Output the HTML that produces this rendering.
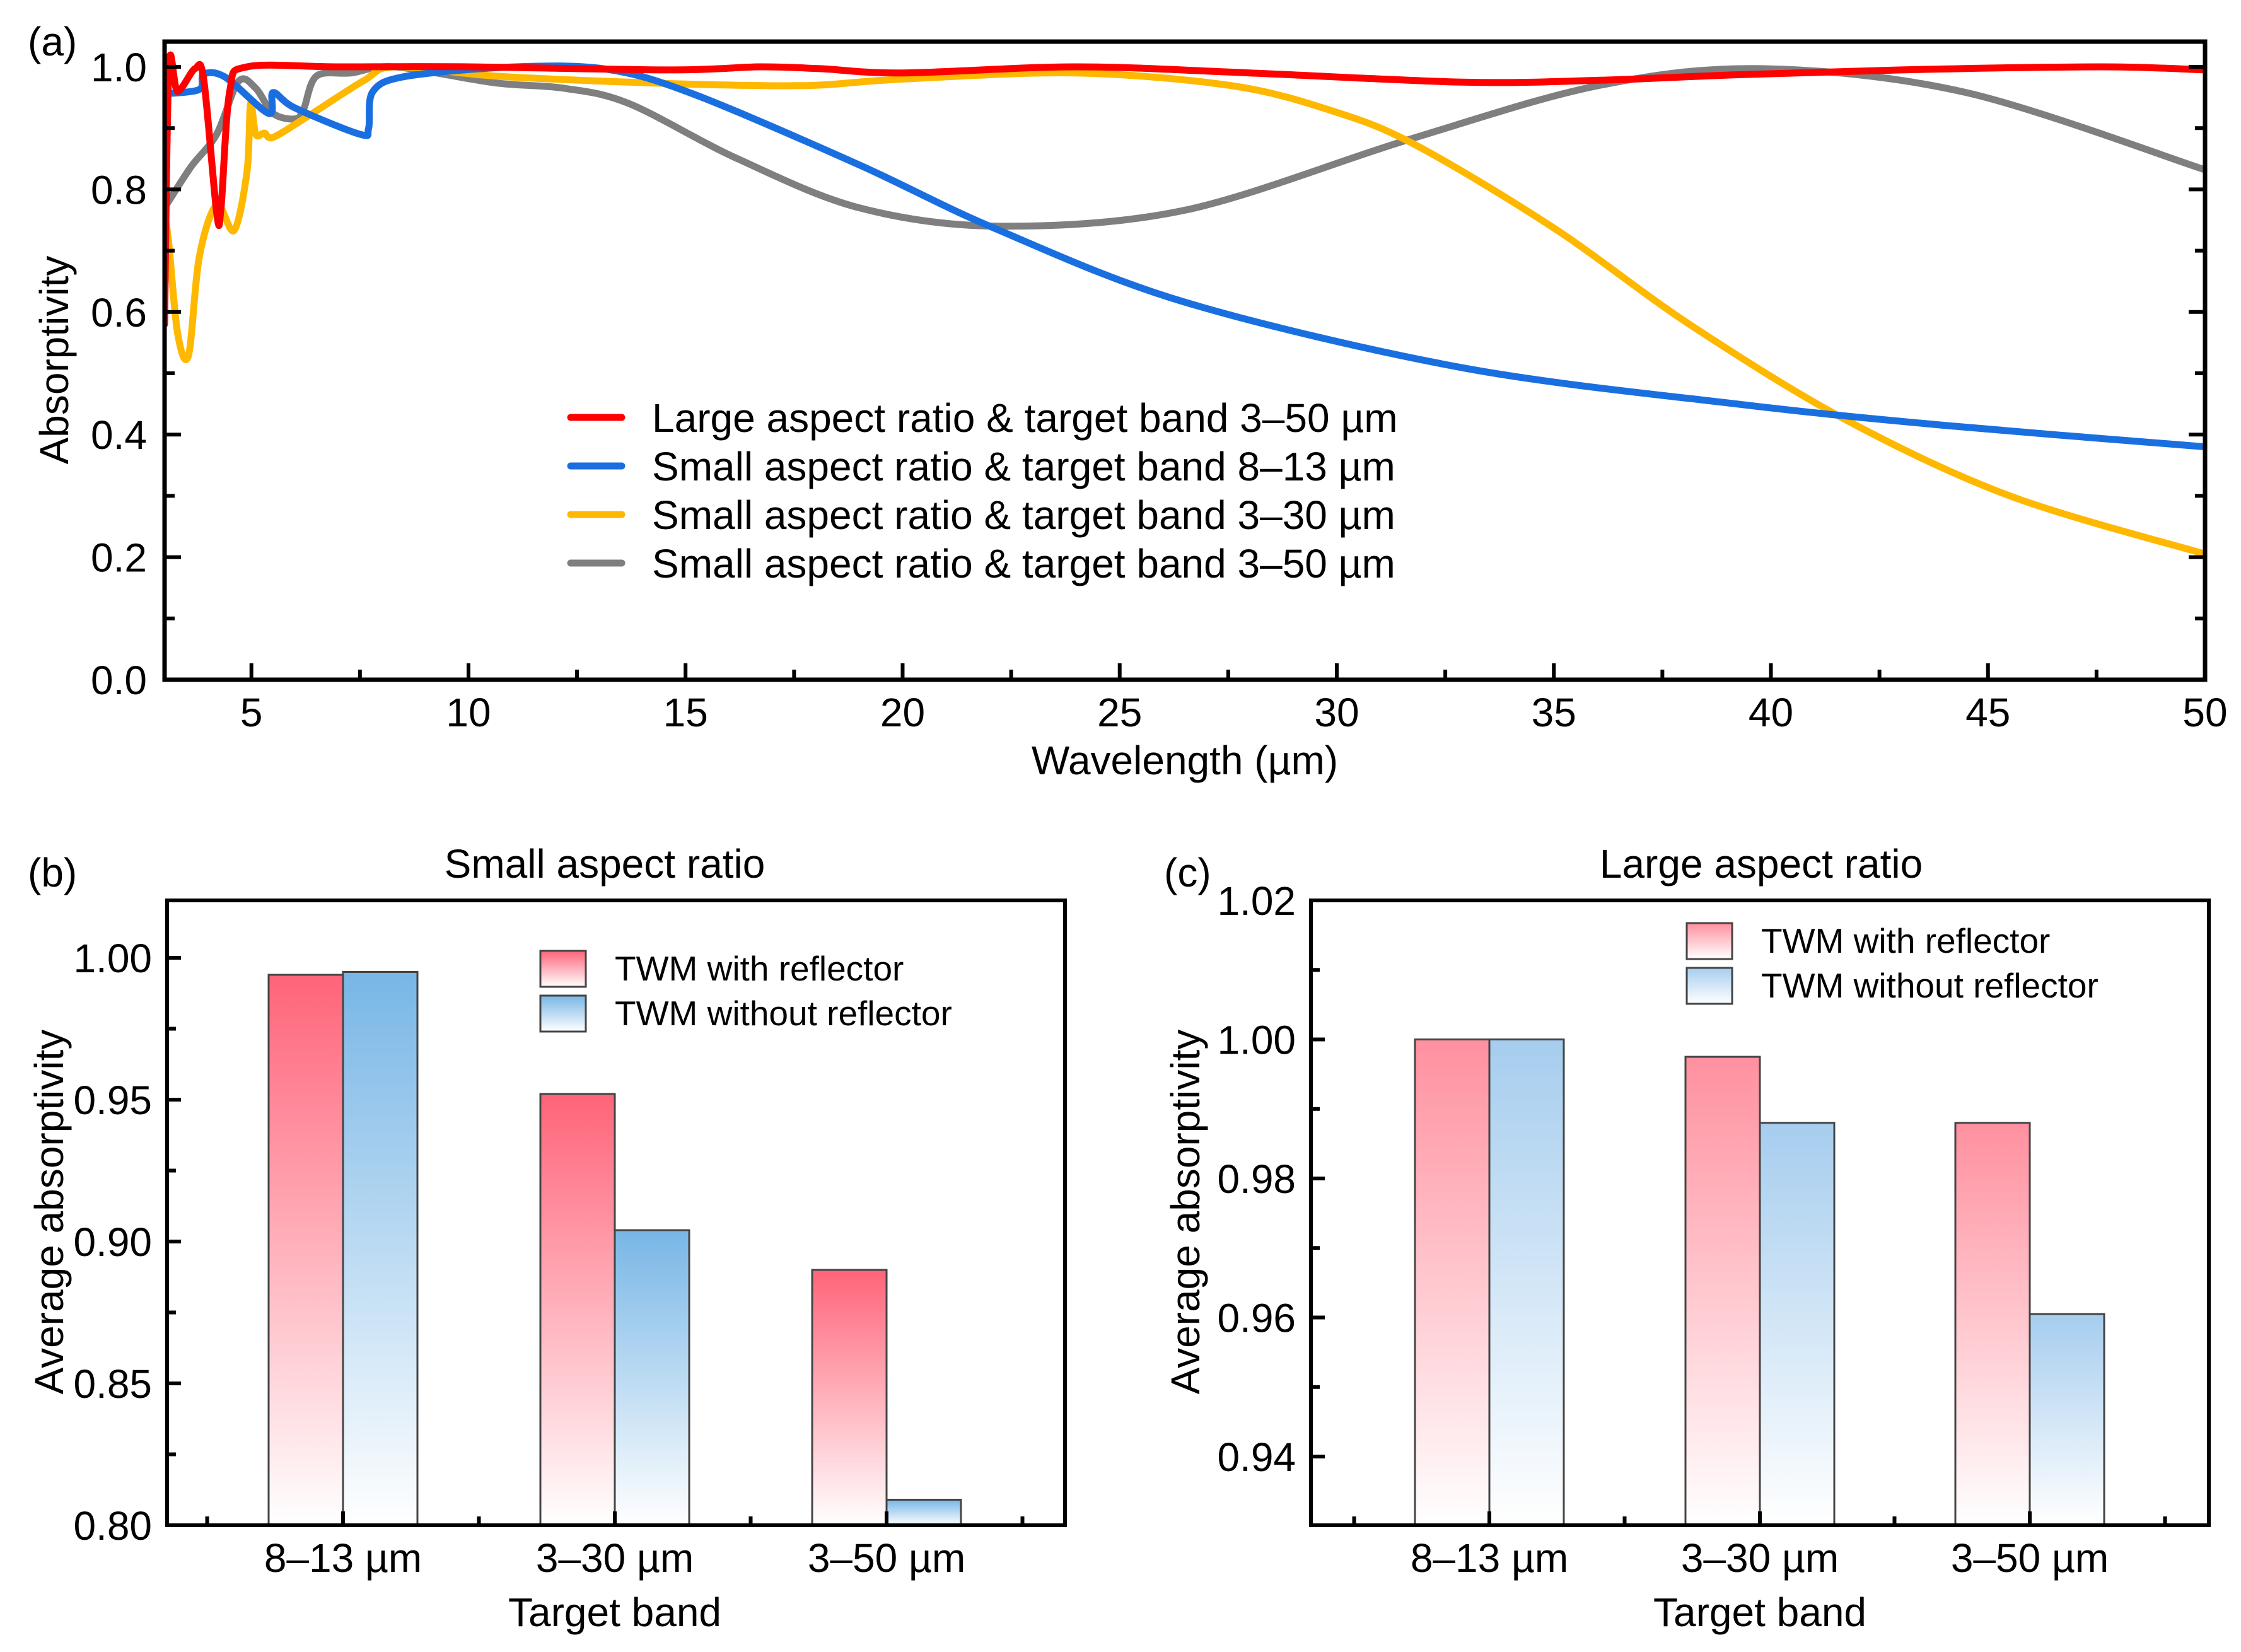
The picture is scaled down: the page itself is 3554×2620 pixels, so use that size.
<!DOCTYPE html>
<html><head><meta charset="utf-8">
<style>
html,body{margin:0;padding:0;background:#fff;}
svg{display:block;font-family:"Liberation Sans",Arial,sans-serif;}
</style></head>
<body>
<svg id="fig" width="3554" height="2620" viewBox="0 0 3554 2620" xmlns="http://www.w3.org/2000/svg">
<defs>
<linearGradient id="gRedB" x1="0" y1="0" x2="0" y2="1"><stop offset="0" stop-color="#ff6479"/><stop offset="1" stop-color="#ffffff"/></linearGradient>
<linearGradient id="gBlueB" x1="0" y1="0" x2="0" y2="1"><stop offset="0" stop-color="#78b6e6"/><stop offset="1" stop-color="#ffffff"/></linearGradient>
<linearGradient id="gRedC" x1="0" y1="0" x2="0" y2="1"><stop offset="0" stop-color="#ff909f"/><stop offset="1" stop-color="#ffffff"/></linearGradient>
<linearGradient id="gBlueC" x1="0" y1="0" x2="0" y2="1"><stop offset="0" stop-color="#a6cdee"/><stop offset="1" stop-color="#ffffff"/></linearGradient>
</defs>
<g id="pa"></g>
<g id="pb"></g>
<g id="pc"></g>
</svg>
<script>
// ---------- Panel (a) data ----------
const redX=[3,3.1,3.3,3.7,3.9,4.2,4.3,4.5,4.9,7,10,14.7,16.7,18.1,20,24,28,32.9,36,39.2,43,47.6,50];
const redY=[0.58,1.0,0.96,0.997,0.98,0.762,0.77,0.96,1.0,1.0,1.0,0.995,1.0,0.997,0.99,1.0,0.99,0.975,0.978,0.987,0.995,1.0,0.995];
const blueX=[3,3.8,3.9,4.4,5.4,5.5,6.0,7.5,7.7,7.8,8.6,11.1,13.2,15.2,19.0,22.1,26.5,32.9,39.2,44,50];
const blueY=[0.956,0.963,0.988,0.983,0.924,0.958,0.933,0.89,0.90,0.96,0.985,1.0,0.996,0.955,0.84,0.737,0.616,0.509,0.45,0.415,0.38];
const yelX=[3,3.1,3.3,3.55,3.8,4.2,4.6,4.9,4.98,5.1,5.3,5.5,6.25,7.6,8.3,10.6,13.7,16.2,18,20,24,27.6,29.9,31.8,35,38.1,41.7,45.5,50];
const yelY=[0.76,0.71,0.565,0.529,0.69,0.775,0.733,0.83,0.94,0.89,0.892,0.885,0.917,0.978,1.0,0.985,0.975,0.97,0.97,0.98,0.99,0.969,0.928,0.873,0.737,0.581,0.425,0.30,0.205];
const grayX=[3,3.6,4.2,4.7,5.1,5.5,6.0,6.2,6.5,7.3,8.3,10.6,12.2,13.7,16.2,19.0,22.2,26.5,31.6,36,39.8,44.5,50];
const grayY=[0.77,0.836,0.89,0.976,0.965,0.924,0.915,0.93,0.985,0.99,1.0,0.974,0.965,0.94,0.85,0.77,0.74,0.766,0.88,0.969,0.997,0.958,0.832];
const seriesNames=["Large aspect ratio & target band 3–50 µm","Small aspect ratio & target band 8–13 µm","Small aspect ratio & target band 3–30 µm","Small aspect ratio & target band 3–50 µm"];
const xTicksA=[5,10,15,20,25,30,35,40,45,50];
const yTicksA=[0,0.2,0.4,0.6,0.8,1.0];
// ---------- Panel (b)/(c) data ----------
const bandCats=["8–13 µm","3–30 µm","3–50 µm"];
const bWith=[0.994,0.952,0.890];
const bWithout=[0.995,0.904,0.809];
const cWith=[1.000,0.9975,0.988];
const cWithout=[1.000,0.988,0.9605];
const yTicksB=["0.80","0.85","0.90","0.95","1.00"];
const yTicksC=["0.94","0.96","0.98","1.00","1.02"];

const NS="http://www.w3.org/2000/svg";
function mk(parent,tag,attrs,text){const e=document.createElementNS(NS,tag);for(const k in attrs)e.setAttribute(k,attrs[k]);if(text!==undefined)e.textContent=text;parent.appendChild(e);return e;}
const FS=64;
function smoothPath(P){
 let d='M'+P[0][0].toFixed(1)+','+P[0][1].toFixed(1);
 for(let i=0;i<P.length-1;i++){
  const p0=P[Math.max(0,i-1)],p1=P[i],p2=P[i+1],p3=P[Math.min(P.length-1,i+2)];
  const t=0.16;
  const c1=[p1[0]+(p2[0]-p0[0])*t,p1[1]+(p2[1]-p0[1])*t];
  const c2=[p2[0]-(p3[0]-p1[0])*t,p2[1]-(p3[1]-p1[1])*t];
  d+=' C'+c1[0].toFixed(1)+','+c1[1].toFixed(1)+' '+c2[0].toFixed(1)+','+c2[1].toFixed(1)+' '+p2[0].toFixed(1)+','+p2[1].toFixed(1);
 }
 return d;
}

// ===== Panel A =====
(function(){
const g=document.getElementById('pa');
const L=261,R=3497,T=66,B=1078;
const xs=v=>L+(v-3)/(50-3)*(R-L);
const ys=v=>B-(v-0)/(1.0)*(B-106);
const cols=["#ff0000","#1a6fe0","#ffb800","#7f7f7f"];
const XS=[redX,blueX,yelX,grayX],YS=[redY,blueY,yelY,grayY];
const names=['red-curve','blue-curve','yellow-curve','gray-curve'];
const cp=mk(g,'clipPath',{id:'clipA'});mk(cp,'rect',{x:L,y:T,width:R-L,height:B-T});
[3,2,1,0].forEach(i=>{
  const P=XS[i].map((x,j)=>[xs(x),ys(YS[i][j])]);
  const p=mk(g,'path',{d:smoothPath(P),fill:'none',stroke:cols[i],'stroke-width':11,'stroke-linejoin':'round','stroke-linecap':'round','clip-path':'url(#clipA)'});
  
  
});
const fr=mk(g,'rect',{x:L,y:T,width:R-L,height:B-T,fill:'none',stroke:'#000','stroke-width':7});

for(let v=5;v<=50;v+=2.5){const maj=(v%5===0);mk(g,'line',{x1:xs(v),x2:xs(v),y1:B,y2:B-(maj?26:16),stroke:'#000','stroke-width':6});}
xTicksA.forEach(v=>{const t=mk(g,'text',{x:xs(v),y:B+74,'font-size':FS,'text-anchor':'middle'},String(v));});
for(let v=0;v<=1.0001;v+=0.1){const maj=Math.round(v*10)%2===0;
 mk(g,'line',{x1:L,x2:L+(maj?26:16),y1:ys(v),y2:ys(v),stroke:'#000','stroke-width':6});
 mk(g,'line',{x1:R,x2:R-(maj?26:16),y1:ys(v),y2:ys(v),stroke:'#000','stroke-width':6});}
yTicksA.forEach(v=>{const t=mk(g,'text',{x:L-28,y:ys(v)+23,'font-size':FS,'text-anchor':'end'},v.toFixed(1));});
let t=mk(g,'text',{x:1879,y:1228,'font-size':FS,'text-anchor':'middle'},'Wavelength (µm)');
t=mk(g,'text',{x:0,y:0,'font-size':FS,'text-anchor':'middle',transform:'translate(108,571) rotate(-90)'},'Absorptivity');
t=mk(g,'text',{x:44,y:88,'font-size':FS},'(a)');
const ly=[662,739,816,893];
seriesNames.forEach((n,i)=>{
 const lg=mk(g,'g',{});
 mk(lg,'line',{x1:905,x2:986,y1:ly[i],y2:ly[i],stroke:cols[i],'stroke-width':11,'stroke-linecap':'round'});
 mk(lg,'text',{x:1034,y:ly[i]+23,'font-size':FS},n);
});
})();

// ===== Bar panels =====
function barPanel(gid,L,R,T,B,centers,yT0,yPix0,yStep,yPixStep,ticks,withV,withoutV,gr,gb,title,titleX,label,labelX,legendX,legendY){
 const g=document.getElementById(gid);
 const ys=v=>yPix0-(v-yT0)/yStep*yPixStep;
 const dx=(centers[1]-centers[0]);
 const bw=118;
 withV.forEach((v,i)=>{
  const r=mk(g,'rect',{x:centers[i]-bw,y:ys(v),width:bw,height:B-ys(v),fill:'url(#'+gr+')',stroke:'#444','stroke-width':3});
  
 });
 withoutV.forEach((v,i)=>{
  const r=mk(g,'rect',{x:centers[i],y:ys(v),width:bw,height:B-ys(v),fill:'url(#'+gb+')',stroke:'#444','stroke-width':3});
  
 });
 const fr=mk(g,'rect',{x:L,y:T,width:R-L,height:B-T,fill:'none',stroke:'#000','stroke-width':6});
 
 ticks.forEach((s,i)=>{const y=yPix0-i*yPixStep;
  mk(g,'line',{x1:L,x2:L+22,y1:y,y2:y,stroke:'#000','stroke-width':6});
  if(y-yPixStep/2>T+5) mk(g,'line',{x1:L,x2:L+14,y1:y-yPixStep/2,y2:y-yPixStep/2,stroke:'#000','stroke-width':6});
  const t=mk(g,'text',{x:L-24,y:y+23,'font-size':FS,'text-anchor':'end'},s);
 });
 if(yPix0+yPixStep/2<B) mk(g,'line',{x1:L,x2:L+14,y1:yPix0+yPixStep/2,y2:yPix0+yPixStep/2,stroke:'#000','stroke-width':6});
 centers.forEach((c,i)=>{
  mk(g,'line',{x1:c,x2:c,y1:B,y2:B-22,stroke:'#000','stroke-width':6});
  mk(g,'line',{x1:c-dx/2,x2:c-dx/2,y1:B,y2:B-14,stroke:'#000','stroke-width':6});
  const t=mk(g,'text',{x:c,y:B+74,'font-size':FS,'text-anchor':'middle'},bandCats[i]);
 });
 mk(g,'line',{x1:centers[2]+dx/2,x2:centers[2]+dx/2,y1:B,y2:B-14,stroke:'#000','stroke-width':6});
 let t=mk(g,'text',{x:centers[1],y:B+160,'font-size':FS,'text-anchor':'middle'},'Target band');
 t=mk(g,'text',{x:0,y:0,'font-size':FS,'text-anchor':'middle',transform:'translate('+(labelX+14)+',1922) rotate(-90)'},'Average absorptivity');
 t=mk(g,'text',{x:titleX,y:1392,'font-size':FS,'text-anchor':'middle'},title);
 t=mk(g,'text',{x:labelX-42,y:1406,'font-size':FS},label);
 [['TWM with reflector',gr],['TWM without reflector',gb]].forEach((e,i)=>{
  const lg=mk(g,'g',{});
  const y0=legendY+i*71;
  mk(lg,'rect',{x:legendX,y:y0,width:72,height:57,fill:'url(#'+e[1]+')',stroke:'#444','stroke-width':3});
  mk(lg,'text',{x:legendX+118,y:y0+47,'font-size':55},e[0]);
 });
}
barPanel('pb',265,1689,1428,2419,[544,975,1406],0.80,2419,0.05,225,yTicksB,bWith,bWithout,'gRedB','gBlueB','Small aspect ratio',959,'(b)',86,857,1508);
barPanel('pc',2079,3503,1428,2419,[2362,2791,3219],0.94,2310,0.02,220.5,yTicksC,cWith,cWithout,'gRedC','gBlueC','Large aspect ratio',2793,'(c)',1888,2675,1464);
</script>
</body></html>
